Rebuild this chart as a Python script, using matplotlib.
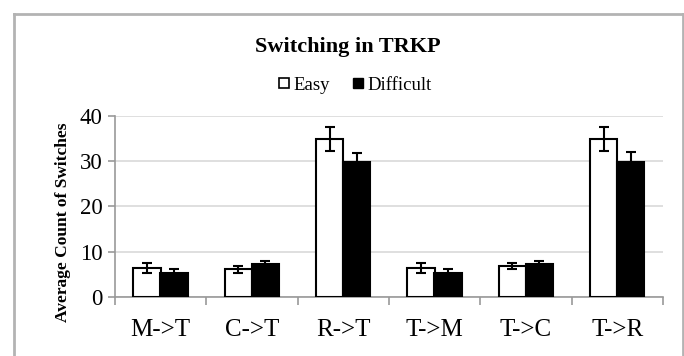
import matplotlib
matplotlib.use("Agg")
import matplotlib.pyplot as plt
import numpy as np
from matplotlib.lines import Line2D

# Data
categories = ["M->T", "C->T", "R->T", "T->M", "T->C", "T->R"]
easy = [6.4, 6.1, 34.9, 6.4, 6.8, 34.9]
easy_err = [1.1, 0.8, 2.6, 1.1, 0.7, 2.6]
difficult = [5.3, 7.2, 29.8, 5.3, 7.2, 29.8]
difficult_err = [0.8, 0.7, 2.0, 0.8, 0.7, 2.2]
y_ticks = [0, 10, 20, 30, 40]

plt.rcParams['font.family'] = ['Liberation Serif', 'DejaVu Serif']

fig = plt.figure(figsize=(6.84, 3.56), dpi=100)

# Grey frame around the chart (bottom edge is cut off in the reference)
frame_color = "#b3b3b3"
x0, x1, ytop = 14 / 684, 682.5 / 684, 1 - 13.5 / 356
for xs, ys in [([x0, x0], [0, ytop]), ([x0, x1], [ytop, ytop]), ([x1, x1], [ytop, 0])]:
    fig.add_artist(Line2D(xs, ys, color=frame_color, lw=2, transform=fig.transFigure))

ax = fig.add_axes([115 / 684, 1 - 296.7 / 356, 548 / 684, 180.7 / 356])

x = np.arange(len(categories)) + 0.5
width = 0.3
err_style = dict(ecolor="black", elinewidth=1.5, capsize=3.5, capthick=1.5)
ax.bar(x - 0.15, easy, width, yerr=easy_err, color="white", edgecolor="black",
       linewidth=1.5, error_kw=err_style, zorder=3)
ax.bar(x + 0.145, difficult, width, yerr=difficult_err, color="black", edgecolor="black",
       linewidth=1.5, error_kw=err_style, zorder=3)

ax.set_xlim(0, len(categories))
ax.set_ylim(0, 40)
ax.set_yticks(y_ticks)
ax.tick_params(axis="y", labelsize=16.5, length=5, width=1.2, color="#999999", pad=4)
ax.set_xticks(x)
ax.set_xticklabels(categories)
ax.tick_params(axis="x", which="major", length=0, labelsize=18, pad=16)
ax.set_xticks(np.arange(len(categories) + 1), minor=True)
ax.tick_params(axis="x", which="minor", length=6, width=1.2, color="#999999")

ax.grid(axis="y", color="#d9d9d9", lw=1.2, zorder=0)
ax.set_axisbelow(True)
for side in ["top", "right"]:
    ax.spines[side].set_visible(False)
for side in ["left", "bottom"]:
    ax.spines[side].set_color("#999999")
    ax.spines[side].set_linewidth(1.2)

ax.set_ylabel("Average Count of Switches", fontsize=12.5, fontweight="bold")
ax.yaxis.set_label_coords(-0.08, 0.41)

fig.text(348 / 684, 1 - 52 / 356, "Switching in TRKP", ha="center", va="baseline",
         fontsize=16, fontweight="bold")

handles = [
    Line2D([], [], marker="s", color="none", markerfacecolor="white",
           markeredgecolor="black", markersize=7, markeredgewidth=1.2, label="Easy"),
    Line2D([], [], marker="s", color="none", markerfacecolor="black",
           markeredgecolor="black", markersize=7, label="Difficult"),
]
fig.legend(handles=handles, loc="center", bbox_to_anchor=(355 / 684, 1 - 85 / 356),
           ncol=2, frameon=False, fontsize=13.5, handlelength=0.6, handletextpad=0.2,
           columnspacing=1.2)

fig.savefig("out.png", dpi=100)
